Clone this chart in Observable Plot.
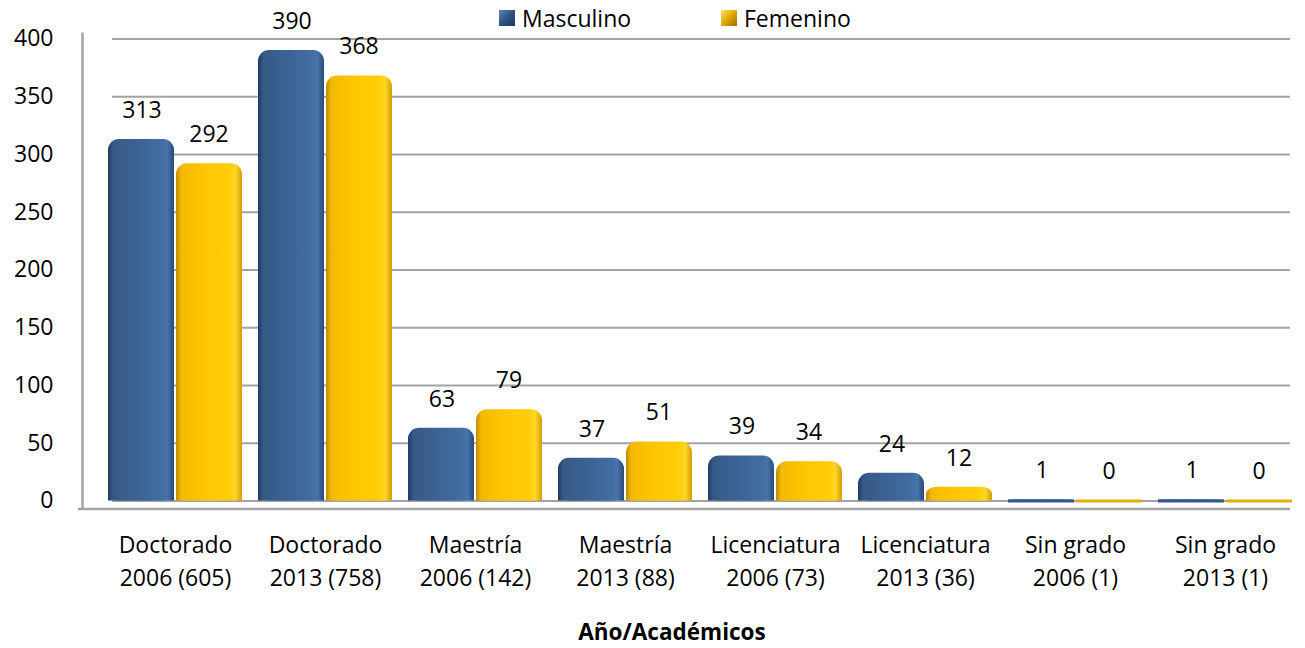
<!DOCTYPE html>
<html>
<head>
<meta charset="utf-8">
<script src="https://cdn.jsdelivr.net/npm/d3@7"></script>
<script src="https://cdn.jsdelivr.net/npm/@observablehq/plot@0.6"></script>
<style>
  body { margin: 0; background: #fff; font-family: "Open Sans", sans-serif; }
  #wrap { position: relative; width: 1305px; height: 648px; }
  .leg { position: absolute; top: 4px; font-size: 23px; line-height: 28px; color: #000; display: flex; align-items: center; }
  .sw { width: 16px; height: 16px; margin-right: 7px; }
  #xtitle { position: absolute; left: 0; width: 1344px; top: 618px; text-align: center; font-weight: bold; font-size: 22.5px; line-height: 28px; color: #000; }
</style>
</head>
<body>
<div id="wrap">
  <div id="chart"></div>
  <div class="leg" id="legM" style="left:499px"><span class="sw" style="background:linear-gradient(135deg,#5a84b8,#2f5383 50%,#1d3a60)"></span><span id="tM"></span></div>
  <div class="leg" id="legF" style="left:721px"><span class="sw" style="background:linear-gradient(135deg,#ffe066,#e0a800 50%,#9a7000)"></span><span id="tF"></span></div>
  <div id="xtitle"></div>
</div>
<script>
const categories = [
  "Doctorado\n2006 (605)",
  "Doctorado\n2013 (758)",
  "Maestría\n2006 (142)",
  "Maestría\n2013 (88)",
  "Licenciatura\n2006 (73)",
  "Licenciatura\n2013 (36)",
  "Sin grado\n2006 (1)",
  "Sin grado\n2013 (1)"
];
const series = ["Masculino", "Femenino"];
const masculino = [313, 390, 63, 37, 39, 24, 1, 1];
const femenino = [292, 368, 79, 51, 34, 12, 0, 0];
const yTicks = [0, 50, 100, 150, 200, 250, 300, 350, 400];
const xTitle = "Año/Académicos";

document.getElementById("tM").textContent = series[0];
document.getElementById("tF").textContent = series[1];
document.getElementById("xtitle").textContent = xTitle;

const dataM = categories.map((c, i) => ({cat: c, sex: series[0], v: masculino[i]}));
const dataF = categories.map((c, i) => ({cat: c, sex: series[1], v: femenino[i]}));

const grid = "#a3a3a3";

function build(bw) {
  const half = bw / 2 + 1;
  return Plot.plot({
    width: 1305,
    height: 648,
    marginTop: 38.5,
    marginBottom: 147.5,
    marginLeft: 104,
    marginRight: 10,
    style: {fontFamily: "Open Sans", fontSize: "23px", color: "#000", background: "transparent", overflow: "visible"},
    x: {domain: categories, paddingInner: 0.11, paddingOuter: 0},
    y: {domain: [0, 400]},
    marks: [
      Plot.ruleY(yTicks, {stroke: grid, strokeWidth: 2, insetLeft: 8, insetRight: 5}),
      Plot.ruleY([0], {stroke: grid, strokeWidth: 2.5, dy: 8, insetLeft: -26, insetRight: 5}),
      Plot.ruleX([categories[0]], {stroke: grid, strokeWidth: 2.5, dx: -(bw / 2 + 26), insetTop: -6, insetBottom: -8}),
      Plot.barY(dataM, {x: "cat", y: "v", fill: "url(#gBlue)", rx: 11, insetRight: half}),
      Plot.barY(dataM, {x: "cat", y1: 0, y2: d => d.v / 2, fill: "url(#gBlue)", insetRight: half}),
      Plot.barY(dataF, {x: "cat", y: "v", fill: "url(#gYellow)", rx: 11, insetLeft: half}),
      Plot.barY(dataF, {x: "cat", y1: 0, y2: d => d.v / 2, fill: "url(#gYellow)", insetLeft: half}),
      Plot.tickY(dataM.filter(d => d.v < 5), {x: "cat", y: 0, stroke: "#34598a", strokeWidth: 3, insetRight: half}),
      Plot.tickY(dataF.filter(d => d.v < 5), {x: "cat", y: 0, stroke: "#e6ae00", strokeWidth: 3, insetLeft: half}),
      Plot.text(dataM, {x: "cat", y: "v", text: d => String(d.v), dx: -bw / 4, dy: -29, fill: "#000"}),
      Plot.text(dataF, {x: "cat", y: "v", text: d => String(d.v), dx: bw / 4, dy: -29, fill: "#000"}),
      Plot.axisY({ticks: yTicks, tickSize: 0, tickPadding: 51, label: null, tickFormat: d => String(d)}),
      Plot.axisX({tickSize: 0, tickPadding: 29, label: null, lineHeight: 1.43})
    ]
  });
}

const probe = build(0);
const bw = probe.scale("x").bandwidth;
const svg = build(bw);

const ns = "http://www.w3.org/2000/svg";
const defs = document.createElementNS(ns, "defs");
defs.innerHTML = `
<linearGradient id="gBlue" x1="0" x2="1" y1="0" y2="0">
  <stop offset="0" stop-color="#1f3a60"/>
  <stop offset="0.08" stop-color="#355a87"/>
  <stop offset="0.45" stop-color="#3c6394"/>
  <stop offset="0.8" stop-color="#426da2"/>
  <stop offset="0.9" stop-color="#4673aa"/>
  <stop offset="1" stop-color="#2a4a76"/>
</linearGradient>
<linearGradient id="gYellow" x1="0" x2="1" y1="0" y2="0">
  <stop offset="0" stop-color="#c08c00"/>
  <stop offset="0.08" stop-color="#f3b900"/>
  <stop offset="0.45" stop-color="#ffc700"/>
  <stop offset="0.8" stop-color="#ffcd08"/>
  <stop offset="0.9" stop-color="#ffd526"/>
  <stop offset="1" stop-color="#d29e00"/>
</linearGradient>`;
svg.insertBefore(defs, svg.firstChild);
document.getElementById("chart").appendChild(svg);
</script>
</body>
</html>
